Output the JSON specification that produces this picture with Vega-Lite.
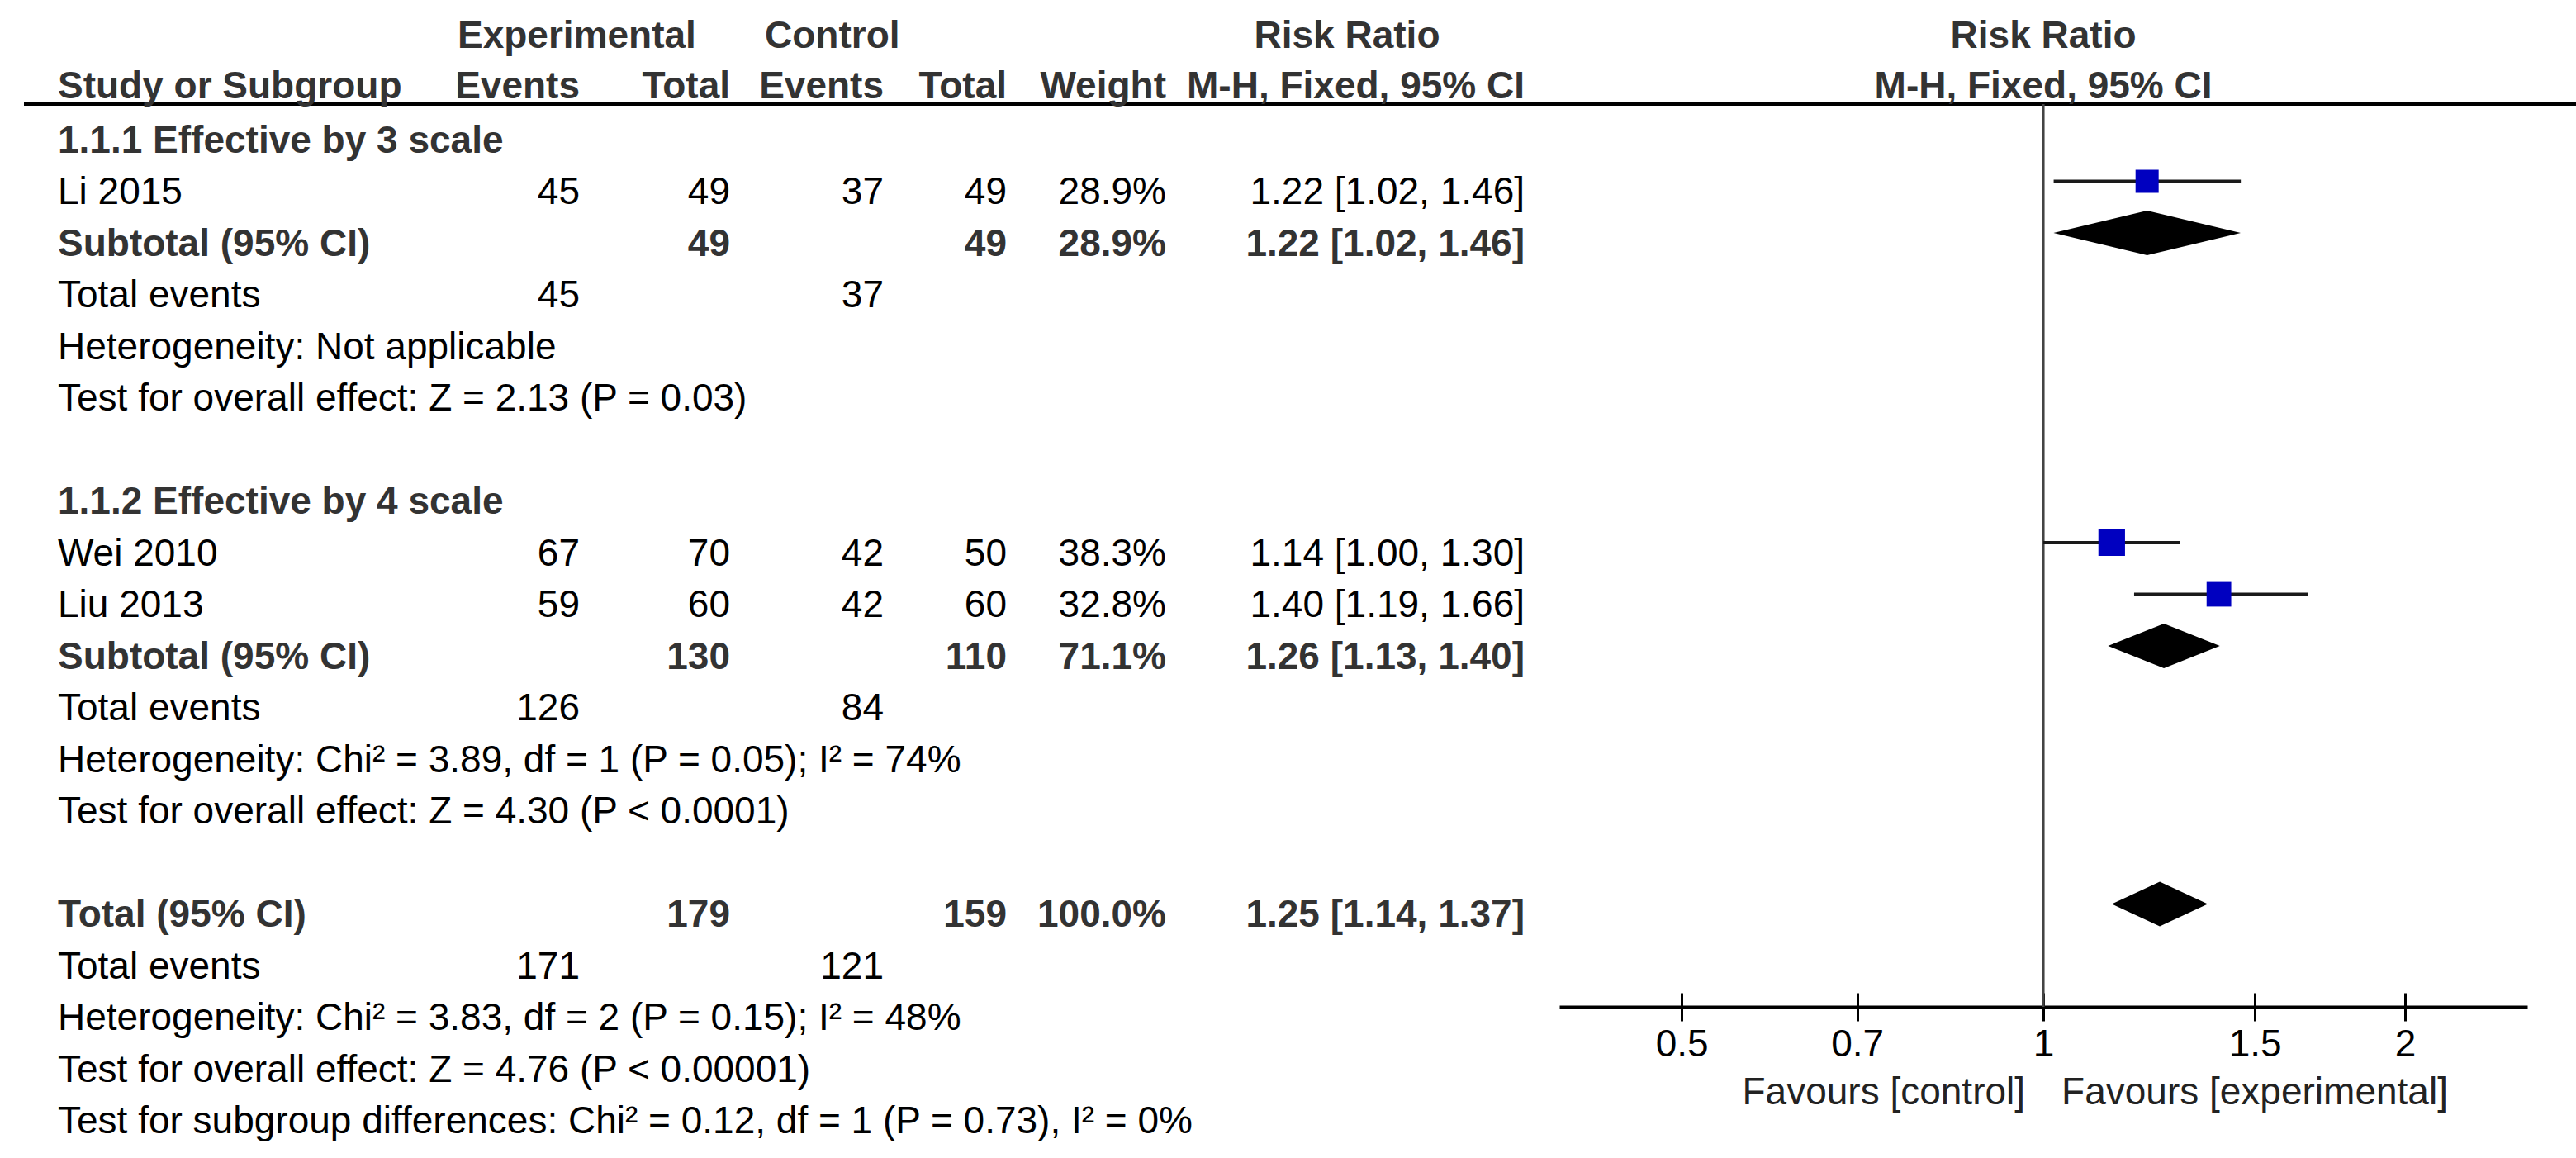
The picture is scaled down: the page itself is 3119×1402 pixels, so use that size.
{
  "$schema": "https://vega.github.io/schema/vega-lite/v6.json",
  "background": "white",
  "padding": {"left": 27, "top": 0, "right": 0, "bottom": 0},
  "spacing": 0,
  "bounds": "flush",
  "config": {
    "view": {"stroke": null},
    "text": {"font": "Liberation Sans", "fontSize": 46, "baseline": "middle", "dy": 13.5},
    "axis": {"labelFont": "Liberation Sans"}
  },
  "datasets": {
    "rows": [
      {"row": 0, "kind": "heading", "study": "1.1.1 Effective by 3 scale"},
      {"row": 1, "kind": "study", "study": "Li 2015", "exp_events": 45, "exp_total": 49, "ctrl_events": 37, "ctrl_total": 49, "weight": 0.289, "rr": 1.22, "lo": 1.02, "hi": 1.46, "rr_ci": "1.22 [1.02, 1.46]"},
      {"row": 2, "kind": "subtotal", "study": "Subtotal (95% CI)", "exp_total": 49, "ctrl_total": 49, "weight": 0.289, "rr": 1.22, "lo": 1.02, "hi": 1.46, "rr_ci": "1.22 [1.02, 1.46]"},
      {"row": 3, "kind": "events", "study": "Total events", "exp_events": 45, "ctrl_events": 37},
      {"row": 4, "kind": "note", "study": "Heterogeneity: Not applicable"},
      {"row": 5, "kind": "note", "study": "Test for overall effect: Z = 2.13 (P = 0.03)"},
      {"row": 7, "kind": "heading", "study": "1.1.2 Effective by 4 scale"},
      {"row": 8, "kind": "study", "study": "Wei 2010", "exp_events": 67, "exp_total": 70, "ctrl_events": 42, "ctrl_total": 50, "weight": 0.383, "rr": 1.14, "lo": 1.0, "hi": 1.3, "rr_ci": "1.14 [1.00, 1.30]"},
      {"row": 9, "kind": "study", "study": "Liu 2013", "exp_events": 59, "exp_total": 60, "ctrl_events": 42, "ctrl_total": 60, "weight": 0.328, "rr": 1.4, "lo": 1.19, "hi": 1.66, "rr_ci": "1.40 [1.19, 1.66]"},
      {"row": 10, "kind": "subtotal", "study": "Subtotal (95% CI)", "exp_total": 130, "ctrl_total": 110, "weight": 0.711, "rr": 1.26, "lo": 1.13, "hi": 1.4, "rr_ci": "1.26 [1.13, 1.40]"},
      {"row": 11, "kind": "events", "study": "Total events", "exp_events": 126, "ctrl_events": 84},
      {"row": 12, "kind": "note", "study": "Heterogeneity: Chi² = 3.89, df = 1 (P = 0.05); I² = 74%"},
      {"row": 13, "kind": "note", "study": "Test for overall effect: Z = 4.30 (P < 0.0001)"},
      {"row": 15, "kind": "subtotal", "study": "Total (95% CI)", "exp_total": 179, "ctrl_total": 159, "weight": 1.0, "rr": 1.25, "lo": 1.14, "hi": 1.37, "rr_ci": "1.25 [1.14, 1.37]"},
      {"row": 16, "kind": "events", "study": "Total events", "exp_events": 171, "ctrl_events": 121},
      {"row": 17, "kind": "note", "study": "Heterogeneity: Chi² = 3.83, df = 2 (P = 0.15); I² = 48%"},
      {"row": 18, "kind": "note", "study": "Test for overall effect: Z = 4.76 (P < 0.00001)"},
      {"row": 19, "kind": "note", "study": "Test for subgroup differences: Chi² = 0.12, df = 1 (P = 0.73), I² = 0%"}
    ],
    "headers": [
      {"col": "study", "tier": 2, "label": "Study or Subgroup"},
      {"col": "exp_events", "tier": 1, "label": "Experimental"},
      {"col": "exp_events", "tier": 2, "label": "Events"},
      {"col": "exp_total", "tier": 2, "label": "Total"},
      {"col": "ctrl_events", "tier": 1, "label": "Control"},
      {"col": "ctrl_events", "tier": 2, "label": "Events"},
      {"col": "ctrl_total", "tier": 2, "label": "Total"},
      {"col": "weight", "tier": 2, "label": "Weight"},
      {"col": "rr_ci", "tier": 1, "label": "Risk Ratio"},
      {"col": "rr_ci", "tier": 2, "label": "M-H, Fixed, 95% CI"},
      {"col": "plot", "tier": 1, "label": "Risk Ratio"},
      {"col": "plot", "tier": 2, "label": "M-H, Fixed, 95% CI"},
      {"col": "favours_control", "tier": 3, "label": "Favours [control]"},
      {"col": "favours_experimental", "tier": 3, "label": "Favours [experimental]"}
    ],
    "line": [{"guide": "header rule"}]
  },
  "data": {"name": "rows"},
  "hconcat": [
    {
      "width": 525, "height": 1402,
      "layer": [
        {"data": {"name": "line"}, "mark": {"type": "rule", "color": "#000", "strokeWidth": 4},
         "encoding": {"x": {"value": 0}, "x2": {"value": "width"}, "y": {"datum": -0.496, "type": "quantitative", "scale": {"domain": [-2.512, 19.92], "reverse": true, "nice": false, "zero": false}, "axis": null}}},
        {"data": {"name": "headers"}, "transform": [{"filter": "datum.col === 'study'"}],
         "mark": {"type": "text", "align": "left", "dx": 41, "fontWeight": "bold", "color": "#333"},
         "encoding": {"x": {"value": 0}, "y": {"datum": -1.056, "type": "quantitative", "scale": {"domain": [-2.512, 19.92], "reverse": true, "nice": false, "zero": false}, "axis": null}, "text": {"field": "label"}}},
        {"transform": [{"filter": {"field": "kind", "oneOf": ["study", "events", "note"]}}],
         "mark": {"type": "text", "align": "left", "dx": 41, "color": "#000"},
         "encoding": {"x": {"value": 0}, "y": {"field": "row", "type": "quantitative", "scale": {"domain": [-2.512, 19.92], "reverse": true, "nice": false, "zero": false}, "axis": null}, "text": {"field": "study"}}},
        {"transform": [{"filter": {"field": "kind", "oneOf": ["heading", "subtotal"]}}],
         "mark": {"type": "text", "align": "left", "dx": 41, "fontWeight": "bold", "color": "#333"},
         "encoding": {"x": {"value": 0}, "y": {"field": "row", "type": "quantitative", "scale": {"domain": [-2.512, 19.92], "reverse": true, "nice": false, "zero": false}, "axis": null}, "text": {"field": "study"}}}
      ]
    },
    {
      "width": 148, "height": 1402,
      "layer": [
        {"data": {"name": "line"}, "mark": {"type": "rule", "color": "#000", "strokeWidth": 4},
         "encoding": {"x": {"value": 0}, "x2": {"value": "width"}, "y": {"datum": -0.496, "type": "quantitative", "scale": {"domain": [-2.512, 19.92], "reverse": true, "nice": false, "zero": false}, "axis": null}}},
        {"data": {"name": "headers"}, "transform": [{"filter": "datum.col === 'exp_events' && datum.tier === 1"}],
         "mark": {"type": "text", "align": "left", "fontWeight": "bold", "color": "#333"},
         "encoding": {"x": {"value": 0}, "y": {"datum": -2.032, "type": "quantitative", "scale": {"domain": [-2.512, 19.92], "reverse": true, "nice": false, "zero": false}, "axis": null}, "text": {"field": "label"}}},
        {"data": {"name": "headers"}, "transform": [{"filter": "datum.col === 'exp_events' && datum.tier === 2"}],
         "mark": {"type": "text", "align": "right", "fontWeight": "bold", "color": "#333"},
         "encoding": {"x": {"value": "width"}, "y": {"datum": -1.056, "type": "quantitative", "scale": {"domain": [-2.512, 19.92], "reverse": true, "nice": false, "zero": false}, "axis": null}, "text": {"field": "label"}}},
        {"transform": [{"filter": {"field": "exp_events", "valid": true}}],
         "mark": {"type": "text", "align": "right", "color": "#000"},
         "encoding": {"x": {"value": "width"}, "y": {"field": "row", "type": "quantitative", "scale": {"domain": [-2.512, 19.92], "reverse": true, "nice": false, "zero": false}, "axis": null}, "text": {"field": "exp_events", "type": "nominal"}}}
      ]
    },
    {
      "width": 182, "height": 1402,
      "layer": [
        {"data": {"name": "line"}, "mark": {"type": "rule", "color": "#000", "strokeWidth": 4},
         "encoding": {"x": {"value": 0}, "x2": {"value": "width"}, "y": {"datum": -0.496, "type": "quantitative", "scale": {"domain": [-2.512, 19.92], "reverse": true, "nice": false, "zero": false}, "axis": null}}},
        {"data": {"name": "headers"}, "transform": [{"filter": "datum.col === 'exp_total'"}],
         "mark": {"type": "text", "align": "right", "fontWeight": "bold", "color": "#333"},
         "encoding": {"x": {"value": "width"}, "y": {"datum": -1.056, "type": "quantitative", "scale": {"domain": [-2.512, 19.92], "reverse": true, "nice": false, "zero": false}, "axis": null}, "text": {"field": "label"}}},
        {"transform": [{"filter": {"field": "kind", "equal": "study"}}],
         "mark": {"type": "text", "align": "right", "color": "#000"},
         "encoding": {"x": {"value": "width"}, "y": {"field": "row", "type": "quantitative", "scale": {"domain": [-2.512, 19.92], "reverse": true, "nice": false, "zero": false}, "axis": null}, "text": {"field": "exp_total", "type": "nominal"}}},
        {"transform": [{"filter": {"field": "kind", "equal": "subtotal"}}],
         "mark": {"type": "text", "align": "right", "fontWeight": "bold", "color": "#333"},
         "encoding": {"x": {"value": "width"}, "y": {"field": "row", "type": "quantitative", "scale": {"domain": [-2.512, 19.92], "reverse": true, "nice": false, "zero": false}, "axis": null}, "text": {"field": "exp_total", "type": "nominal"}}}
      ]
    },
    {
      "width": 186, "height": 1402,
      "layer": [
        {"data": {"name": "line"}, "mark": {"type": "rule", "color": "#000", "strokeWidth": 4},
         "encoding": {"x": {"value": 0}, "x2": {"value": "width"}, "y": {"datum": -0.496, "type": "quantitative", "scale": {"domain": [-2.512, 19.92], "reverse": true, "nice": false, "zero": false}, "axis": null}}},
        {"data": {"name": "headers"}, "transform": [{"filter": "datum.col === 'ctrl_events' && datum.tier === 1"}],
         "mark": {"type": "text", "align": "left", "dx": 42, "fontWeight": "bold", "color": "#333"},
         "encoding": {"x": {"value": 0}, "y": {"datum": -2.032, "type": "quantitative", "scale": {"domain": [-2.512, 19.92], "reverse": true, "nice": false, "zero": false}, "axis": null}, "text": {"field": "label"}}},
        {"data": {"name": "headers"}, "transform": [{"filter": "datum.col === 'ctrl_events' && datum.tier === 2"}],
         "mark": {"type": "text", "align": "right", "fontWeight": "bold", "color": "#333"},
         "encoding": {"x": {"value": "width"}, "y": {"datum": -1.056, "type": "quantitative", "scale": {"domain": [-2.512, 19.92], "reverse": true, "nice": false, "zero": false}, "axis": null}, "text": {"field": "label"}}},
        {"transform": [{"filter": {"field": "ctrl_events", "valid": true}}],
         "mark": {"type": "text", "align": "right", "color": "#000"},
         "encoding": {"x": {"value": "width"}, "y": {"field": "row", "type": "quantitative", "scale": {"domain": [-2.512, 19.92], "reverse": true, "nice": false, "zero": false}, "axis": null}, "text": {"field": "ctrl_events", "type": "nominal"}}}
      ]
    },
    {
      "width": 149, "height": 1402,
      "layer": [
        {"data": {"name": "line"}, "mark": {"type": "rule", "color": "#000", "strokeWidth": 4},
         "encoding": {"x": {"value": 0}, "x2": {"value": "width"}, "y": {"datum": -0.496, "type": "quantitative", "scale": {"domain": [-2.512, 19.92], "reverse": true, "nice": false, "zero": false}, "axis": null}}},
        {"data": {"name": "headers"}, "transform": [{"filter": "datum.col === 'ctrl_total'"}],
         "mark": {"type": "text", "align": "right", "fontWeight": "bold", "color": "#333"},
         "encoding": {"x": {"value": "width"}, "y": {"datum": -1.056, "type": "quantitative", "scale": {"domain": [-2.512, 19.92], "reverse": true, "nice": false, "zero": false}, "axis": null}, "text": {"field": "label"}}},
        {"transform": [{"filter": {"field": "kind", "equal": "study"}}],
         "mark": {"type": "text", "align": "right", "color": "#000"},
         "encoding": {"x": {"value": "width"}, "y": {"field": "row", "type": "quantitative", "scale": {"domain": [-2.512, 19.92], "reverse": true, "nice": false, "zero": false}, "axis": null}, "text": {"field": "ctrl_total", "type": "nominal"}}},
        {"transform": [{"filter": {"field": "kind", "equal": "subtotal"}}],
         "mark": {"type": "text", "align": "right", "fontWeight": "bold", "color": "#333"},
         "encoding": {"x": {"value": "width"}, "y": {"field": "row", "type": "quantitative", "scale": {"domain": [-2.512, 19.92], "reverse": true, "nice": false, "zero": false}, "axis": null}, "text": {"field": "ctrl_total", "type": "nominal"}}}
      ]
    },
    {
      "width": 193, "height": 1402,
      "layer": [
        {"data": {"name": "line"}, "mark": {"type": "rule", "color": "#000", "strokeWidth": 4},
         "encoding": {"x": {"value": 0}, "x2": {"value": "width"}, "y": {"datum": -0.496, "type": "quantitative", "scale": {"domain": [-2.512, 19.92], "reverse": true, "nice": false, "zero": false}, "axis": null}}},
        {"data": {"name": "headers"}, "transform": [{"filter": "datum.col === 'weight'"}],
         "mark": {"type": "text", "align": "right", "fontWeight": "bold", "color": "#333"},
         "encoding": {"x": {"value": "width"}, "y": {"datum": -1.056, "type": "quantitative", "scale": {"domain": [-2.512, 19.92], "reverse": true, "nice": false, "zero": false}, "axis": null}, "text": {"field": "label"}}},
        {"transform": [{"filter": {"field": "kind", "equal": "study"}}],
         "mark": {"type": "text", "align": "right", "color": "#000"},
         "encoding": {"x": {"value": "width"}, "y": {"field": "row", "type": "quantitative", "scale": {"domain": [-2.512, 19.92], "reverse": true, "nice": false, "zero": false}, "axis": null}, "text": {"field": "weight", "type": "quantitative", "format": ".1%"}}},
        {"transform": [{"filter": {"field": "kind", "equal": "subtotal"}}],
         "mark": {"type": "text", "align": "right", "fontWeight": "bold", "color": "#333"},
         "encoding": {"x": {"value": "width"}, "y": {"field": "row", "type": "quantitative", "scale": {"domain": [-2.512, 19.92], "reverse": true, "nice": false, "zero": false}, "axis": null}, "text": {"field": "weight", "type": "quantitative", "format": ".1%"}}}
      ]
    },
    {
      "width": 434, "height": 1402,
      "layer": [
        {"data": {"name": "line"}, "mark": {"type": "rule", "color": "#000", "strokeWidth": 4},
         "encoding": {"x": {"value": 0}, "x2": {"value": "width"}, "y": {"datum": -0.496, "type": "quantitative", "scale": {"domain": [-2.512, 19.92], "reverse": true, "nice": false, "zero": false}, "axis": null}}},
        {"data": {"name": "headers"}, "transform": [{"filter": "datum.col === 'rr_ci' && datum.tier === 1"}],
         "mark": {"type": "text", "align": "center", "dx": -215, "fontWeight": "bold", "color": "#333"},
         "encoding": {"x": {"value": "width"}, "y": {"datum": -2.032, "type": "quantitative", "scale": {"domain": [-2.512, 19.92], "reverse": true, "nice": false, "zero": false}, "axis": null}, "text": {"field": "label"}}},
        {"data": {"name": "headers"}, "transform": [{"filter": "datum.col === 'rr_ci' && datum.tier === 2"}],
         "mark": {"type": "text", "align": "right", "fontWeight": "bold", "color": "#333"},
         "encoding": {"x": {"value": "width"}, "y": {"datum": -1.056, "type": "quantitative", "scale": {"domain": [-2.512, 19.92], "reverse": true, "nice": false, "zero": false}, "axis": null}, "text": {"field": "label"}}},
        {"transform": [{"filter": {"field": "kind", "equal": "study"}}],
         "mark": {"type": "text", "align": "right", "color": "#000"},
         "encoding": {"x": {"value": "width"}, "y": {"field": "row", "type": "quantitative", "scale": {"domain": [-2.512, 19.92], "reverse": true, "nice": false, "zero": false}, "axis": null}, "text": {"field": "rr_ci"}}},
        {"transform": [{"filter": {"field": "kind", "equal": "subtotal"}}],
         "mark": {"type": "text", "align": "right", "fontWeight": "bold", "color": "#333"},
         "encoding": {"x": {"value": "width"}, "y": {"field": "row", "type": "quantitative", "scale": {"domain": [-2.512, 19.92], "reverse": true, "nice": false, "zero": false}, "axis": null}, "text": {"field": "rr_ci"}}}
      ]
    },
    {
      "width": 42, "height": 1402,
      "layer": [
        {"data": {"name": "line"}, "mark": {"type": "rule", "color": "#000", "strokeWidth": 4},
         "encoding": {"x": {"value": 0}, "x2": {"value": "width"}, "y": {"datum": -0.496, "type": "quantitative", "scale": {"domain": [-2.512, 19.92], "reverse": true, "nice": false, "zero": false}, "axis": null}}}
      ]
    },
    {
      "width": 1172, "height": 1402,
      "resolve": {"axis": {"x": "independent"}},
      "layer": [
        {"data": {"name": "line"}, "mark": {"type": "rule", "color": "#000", "strokeWidth": 4},
         "encoding": {"x": {"datum": 0.3955, "type": "quantitative", "scale": {"type": "log", "domain": [0.3955, 2.528], "nice": false}, "axis": null}, "x2": {"datum": 2.78}, "y": {"datum": -0.496, "type": "quantitative", "scale": {"domain": [-2.512, 19.92], "reverse": true, "nice": false, "zero": false}, "axis": null}}},
        {"data": {"name": "line"}, "mark": {"type": "rule", "color": "#444", "strokeWidth": 3},
         "encoding": {"x": {"datum": 1, "type": "quantitative", "scale": {"type": "log", "domain": [0.3955, 2.528], "nice": false}, "axis": null}, "y": {"datum": -0.496, "type": "quantitative", "scale": {"domain": [-2.512, 19.92], "reverse": true, "nice": false, "zero": false}, "axis": null}, "y2": {"datum": 16.992}}},
        {"transform": [{"filter": {"field": "kind", "equal": "study"}}],
         "mark": {"type": "rule", "color": "#1a1a1a", "strokeWidth": 4},
         "encoding": {
           "x": {"field": "lo", "type": "quantitative", "scale": {"type": "log", "domain": [0.3955, 2.528], "nice": false},
                 "axis": {"orient": "bottom", "offset": -183, "values": [0.5, 0.7, 1, 1.5, 2], "format": "~g", "title": null, "grid": false,
                          "domain": true, "domainColor": "#000", "domainWidth": 4, "ticks": true, "tickSize": 17, "tickWidth": 3, "tickColor": "#000",
                          "labels": true, "labelFontSize": 46, "labelColor": "#000", "labelPadding": 6, "labelFont": "Liberation Sans"}},
           "x2": {"field": "hi"},
           "y": {"field": "row", "type": "quantitative", "scale": {"domain": [-2.512, 19.92], "reverse": true, "nice": false, "zero": false}, "axis": null}}},
        {"transform": [{"filter": {"field": "kind", "equal": "study"}}],
         "mark": {"type": "square", "color": "#0000c0", "filled": true, "opacity": 1},
         "encoding": {
           "x": {"field": "rr", "type": "quantitative", "scale": {"type": "log", "domain": [0.3955, 2.528], "nice": false},
                 "axis": {"orient": "bottom", "offset": -200, "values": [0.5, 0.7, 1, 1.5, 2], "title": null, "grid": false,
                          "domain": false, "ticks": true, "tickSize": 17, "tickWidth": 3, "tickColor": "#000", "labels": false}},
           "y": {"field": "row", "type": "quantitative", "scale": {"domain": [-2.512, 19.92], "reverse": true, "nice": false, "zero": false}, "axis": null},
           "size": {"field": "weight", "type": "quantitative", "scale": {"domain": [0, 1], "range": [0, 2710]}, "legend": null}}},
        {"transform": [{"filter": {"field": "kind", "equal": "subtotal"}}],
         "mark": {"type": "point", "color": "#000", "filled": true, "opacity": 1, "strokeWidth": 0, "size": 51348},
         "encoding": {
           "x": {"field": "rr", "type": "quantitative", "scale": {"type": "log", "domain": [0.3955, 2.528], "nice": false}, "axis": null},
           "y": {"field": "row", "type": "quantitative", "scale": {"domain": [-2.512, 19.92], "reverse": true, "nice": false, "zero": false}, "axis": null},
           "shape": {"field": "row", "type": "nominal", "legend": null,
                     "scale": {"domain": [2, 10, 15], "range": ["M-1,0L0,-0.2383L1,0L0,0.2383Z", "M-0.5975,0L0,-0.2383L0.5975,0L0,0.2383Z", "M-0.5128,0L0,-0.2383L0.5128,0L0,0.2383Z"]}}}},
        {"data": {"name": "headers"}, "transform": [{"filter": "datum.col === 'plot' && datum.tier === 1"}],
         "mark": {"type": "text", "align": "center", "fontWeight": "bold", "color": "#333"},
         "encoding": {"x": {"datum": 1, "type": "quantitative", "scale": {"type": "log", "domain": [0.3955, 2.528], "nice": false}, "axis": null}, "y": {"datum": -2.032, "type": "quantitative", "scale": {"domain": [-2.512, 19.92], "reverse": true, "nice": false, "zero": false}, "axis": null}, "text": {"field": "label"}}},
        {"data": {"name": "headers"}, "transform": [{"filter": "datum.col === 'plot' && datum.tier === 2"}],
         "mark": {"type": "text", "align": "center", "fontWeight": "bold", "color": "#333"},
         "encoding": {"x": {"datum": 1, "type": "quantitative", "scale": {"type": "log", "domain": [0.3955, 2.528], "nice": false}, "axis": null}, "y": {"datum": -1.056, "type": "quantitative", "scale": {"domain": [-2.512, 19.92], "reverse": true, "nice": false, "zero": false}, "axis": null}, "text": {"field": "label"}}},
        {"data": {"name": "headers"}, "transform": [{"filter": "datum.col === 'favours_control'"}],
         "mark": {"type": "text", "align": "right", "dx": -22, "color": "#222"},
         "encoding": {"x": {"datum": 1, "type": "quantitative", "scale": {"type": "log", "domain": [0.3955, 2.528], "nice": false}, "axis": null}, "y": {"datum": 18.432, "type": "quantitative", "scale": {"domain": [-2.512, 19.92], "reverse": true, "nice": false, "zero": false}, "axis": null}, "text": {"field": "label"}}},
        {"data": {"name": "headers"}, "transform": [{"filter": "datum.col === 'favours_experimental'"}],
         "mark": {"type": "text", "align": "left", "dx": 22, "color": "#222"},
         "encoding": {"x": {"datum": 1, "type": "quantitative", "scale": {"type": "log", "domain": [0.3955, 2.528], "nice": false}, "axis": null}, "y": {"datum": 18.432, "type": "quantitative", "scale": {"domain": [-2.512, 19.92], "reverse": true, "nice": false, "zero": false}, "axis": null}, "text": {"field": "label"}}}
      ]
    }
  ]
}
